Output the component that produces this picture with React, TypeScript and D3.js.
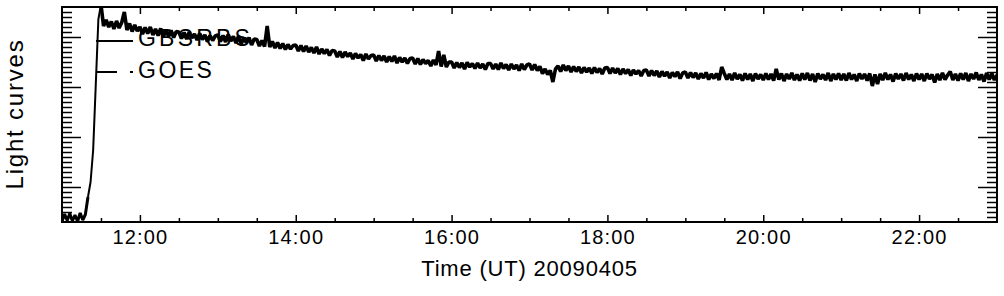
import React, { useEffect, useRef } from "react";
import * as d3 from "d3";

// GBSRBS light curve, one sample every 2 min from 11:00 UT (arbitrary units)
const startHour = 11;
const stepMinutes = 2;
const gbsrbs = [
  0.31, 0.46, 0.33, 0.47, 0.32, 0.44, 0.31, 0.48, 0.34, 0.45, 0.8, 1.1, 1.74, 3.04, 4.35,
  4.65, 4.22, 4.34, 4.2, 4.31, 4.16, 4.32, 4.18, 4.29, 4.5, 4.14, 4.27, 4.11, 4.24, 4.12,
  4.2, 4.06, 4.19, 4.07, 4.2, 4.04, 4.16, 4.03, 4.17, 4.0, 4.14, 4.02, 4.13, 3.99, 4.11,
  4.1, 3.97, 4.09, 3.96, 4.1, 3.98, 4.06, 3.94, 4.07, 3.95, 4.04, 3.91, 4.03, 3.93, 4.02,
  4.04, 3.91, 4.03, 3.9, 4.05, 3.92, 4.01, 3.88, 4.02, 3.86, 3.98, 3.89, 3.99, 3.84, 3.96,
  3.95, 3.82, 3.93, 3.81, 4.22, 3.8, 3.91, 3.78, 3.89, 3.77, 3.87, 3.75, 3.85, 3.76, 3.83,
  3.84, 3.72, 3.83, 3.71, 3.82, 3.7, 3.79, 3.68, 3.8, 3.66, 3.76, 3.67, 3.75, 3.63, 3.73,
  3.72, 3.6, 3.71, 3.59, 3.7, 3.61, 3.68, 3.56, 3.67, 3.58, 3.65, 3.53, 3.66, 3.56, 3.63,
  3.64, 3.52, 3.63, 3.53, 3.62, 3.5, 3.61, 3.51, 3.62, 3.48, 3.59, 3.5, 3.58, 3.47, 3.57,
  3.58, 3.46, 3.57, 3.45, 3.55, 3.47, 3.53, 3.42, 3.54, 3.44, 3.72, 3.41, 3.64, 3.4, 3.5,
  3.5, 3.38, 3.49, 3.39, 3.48, 3.36, 3.49, 3.4, 3.47, 3.37, 3.48, 3.38, 3.46, 3.35, 3.47,
  3.47, 3.36, 3.46, 3.35, 3.48, 3.37, 3.45, 3.34, 3.46, 3.36, 3.44, 3.33, 3.46, 3.35, 3.44,
  3.46, 3.34, 3.45, 3.33, 3.41, 3.27, 3.36, 3.25, 3.33, 3.1, 3.36, 3.42, 3.31, 3.44, 3.33,
  3.42, 3.3, 3.41, 3.31, 3.4, 3.28, 3.39, 3.3, 3.38, 3.27, 3.39, 3.29, 3.37, 3.26, 3.38,
  3.39, 3.27, 3.38, 3.28, 3.37, 3.25, 3.36, 3.27, 3.35, 3.23, 3.34, 3.26, 3.33, 3.22, 3.33,
  3.34, 3.22, 3.33, 3.23, 3.32, 3.2, 3.31, 3.22, 3.3, 3.18, 3.29, 3.21, 3.3, 3.17, 3.28,
  3.3, 3.18, 3.29, 3.19, 3.28, 3.16, 3.27, 3.18, 3.29, 3.15, 3.26, 3.17, 3.27, 3.14, 3.4,
  3.27, 3.15, 3.26, 3.14, 3.28, 3.16, 3.25, 3.13, 3.27, 3.15, 3.26, 3.12, 3.27, 3.16, 3.25,
  3.14, 3.27, 3.15, 3.26, 3.13, 3.36, 3.15, 3.27, 3.12, 3.26, 3.16, 3.28, 3.14, 3.25, 3.13,
  3.27, 3.15, 3.28, 3.13, 3.26, 3.1, 3.27, 3.16, 3.25, 3.14, 3.28, 3.12, 3.26, 3.15, 3.27,
  3.14, 3.26, 3.13, 3.28, 3.15, 3.25, 3.12, 3.27, 3.16, 3.26, 3.13, 3.27, 3.02, 3.25, 3.06,
  3.26, 3.14, 3.28, 3.15, 3.25, 3.11, 3.27, 3.16, 3.26, 3.13, 3.28, 3.15, 3.25, 3.12, 3.27,
  3.15, 3.26, 3.12, 3.27, 3.16, 3.25, 3.09, 3.26, 3.14, 3.28, 3.15, 3.24, 3.31, 3.14, 3.26,
  3.13, 3.27, 3.15, 3.28, 3.12, 3.26, 3.16, 3.29, 3.14, 3.25, 3.11, 3.28, 3.15, 3.27, 3.14, 3.24,
];
// sample indices where the impulsive rise starts and ends
const riseStart = 10;
const riseEnd = 15;

// GOES sits on the bottom of the window
const goesHours = [11, 13, 15, 17, 19, 21, 23];
const goesValues = [0.3, 0.3, 0.3, 0.3, 0.3, 0.3, 0.3];

const majorHours = [12, 14, 16, 18, 20, 22];
const majorLabels = ["12:00", "14:00", "16:00", "18:00", "20:00", "22:00"];
const yMajor = [1, 2, 3, 4];
const legendNames = ["GBSRBS", "GOES"];

const FONT = "'Liberation Sans', Arial, Helvetica, sans-serif";

function App() {
  const ref = useRef<SVGSVGElement>(null);

  useEffect(() => {
    drawChart();
  }, []);

  function drawChart() {
    const width = 1004;
    const height = 296;
    const left = 62, right = 997, top = 7, bottom = 222;

    const svg = d3.select(ref.current).attr("width", width).attr("height", height);
    svg.selectAll("*").remove();

    const xScale = d3.scaleLinear().domain([11, 23]).range([left, right]);
    const yScale = d3.scaleLinear().domain([0.3, 4.6]).range([bottom, top]);

    const minorHours = d3.range(11.5, 23, 0.5).filter((h) => h % 2 !== 0);
    const yMinor = d3.range(4, 46).map((v) => v / 10).filter((v) => v % 1 !== 0);

    svg.append("defs").append("clipPath").attr("id", "plotClip")
      .append("rect")
      .attr("x", left).attr("y", top)
      .attr("width", right - left).attr("height", bottom - top);

    // Legend
    const legend = svg.append("g");
    legend.append("line")
      .attr("x1", 96).attr("x2", 133).attr("y1", 41).attr("y2", 41)
      .attr("stroke", "#000").attr("stroke-width", 2);
    legend.append("line")
      .attr("x1", 96).attr("x2", 134).attr("y1", 72).attr("y2", 72)
      .attr("stroke", "#000").attr("stroke-width", 2)
      .attr("stroke-dasharray", "21,13,3,13");
    legend.selectAll("text")
      .data(legendNames)
      .join("text")
      .attr("x", 138)
      .attr("y", (d, i) => (i === 0 ? 46 : 78))
      .attr("font-family", FONT)
      .attr("font-size", 23)
      .attr("letter-spacing", (d, i) => (i === 0 ? 3.2 : 2.5))
      .attr("fill", "#000")
      .text((d) => d);

    // Curves
    const line = d3.line<[number, number]>()
      .x((d) => xScale(d[0]))
      .y((d) => yScale(d[1]));

    const gbPoints: [number, number][] = gbsrbs.map((v, i) => [startHour + (i * stepMinutes) / 60, v]);
    // noisy parts drawn heavier so the dense jitter reads as a band, the rise stays thin
    const pieces: [[number, number][], number][] = [
      [gbPoints.slice(0, riseStart + 1), 3],
      [gbPoints.slice(riseStart, riseEnd + 1), 2],
      [gbPoints.slice(riseEnd), 3.6],
    ];
    svg.append("g")
      .attr("clip-path", "url(#plotClip)")
      .selectAll("path")
      .data(pieces)
      .join("path")
      .attr("d", (d) => line(d[0]))
      .attr("fill", "none")
      .attr("stroke", "#000")
      .attr("stroke-width", (d) => d[1])
      .attr("stroke-linejoin", "bevel");

    const goesPoints: [number, number][] = goesHours.map((h, i) => [h, goesValues[i]]);
    svg.append("path")
      .datum(goesPoints)
      .attr("d", line)
      .attr("fill", "none")
      .attr("stroke", "#000")
      .attr("stroke-width", 2)
      .attr("stroke-dasharray", "21,13,3,13");

    // Axes, ticks pointing inward on all four sides
    const styleTicks = (g: any) => {
      g.select(".domain").remove();
      g.selectAll(".tick line").attr("stroke", "#000").attr("stroke-width", 1.5);
    };

    svg.append("g")
      .attr("transform", `translate(0,${bottom})`)
      .call(d3.axisBottom(xScale).tickValues(majorHours).tickSize(-7).tickSizeOuter(0)
        .tickPadding(8).tickFormat((d, i) => majorLabels[i]))
      .call(styleTicks)
      .call((g) => g.selectAll(".tick text")
        .attr("font-family", FONT).attr("font-size", 20)
        .attr("letter-spacing", 1.2).attr("fill", "#000"));
    svg.append("g")
      .attr("transform", `translate(0,${bottom})`)
      .call(d3.axisBottom(xScale).tickValues(minorHours).tickSize(-4).tickSizeOuter(0).tickFormat(() => ""))
      .call(styleTicks);
    svg.append("g")
      .attr("transform", `translate(0,${top})`)
      .call(d3.axisTop(xScale).tickValues(majorHours).tickSize(-7).tickSizeOuter(0).tickFormat(() => ""))
      .call(styleTicks);
    svg.append("g")
      .attr("transform", `translate(0,${top})`)
      .call(d3.axisTop(xScale).tickValues(minorHours).tickSize(-4).tickSizeOuter(0).tickFormat(() => ""))
      .call(styleTicks);

    svg.append("g")
      .attr("transform", `translate(${left},0)`)
      .call(d3.axisLeft(yScale).tickValues(yMajor).tickSize(-19).tickSizeOuter(0).tickFormat(() => ""))
      .call(styleTicks);
    svg.append("g")
      .attr("transform", `translate(${left},0)`)
      .call(d3.axisLeft(yScale).tickValues(yMinor).tickSize(-10).tickSizeOuter(0).tickFormat(() => ""))
      .call(styleTicks);
    svg.append("g")
      .attr("transform", `translate(${right},0)`)
      .call(d3.axisRight(yScale).tickValues(yMajor).tickSize(-19).tickSizeOuter(0).tickFormat(() => ""))
      .call(styleTicks);
    svg.append("g")
      .attr("transform", `translate(${right},0)`)
      .call(d3.axisRight(yScale).tickValues(yMinor).tickSize(-10).tickSizeOuter(0).tickFormat(() => ""))
      .call(styleTicks);

    // Frame
    svg.append("rect")
      .attr("x", left).attr("y", top)
      .attr("width", right - left).attr("height", bottom - top)
      .attr("fill", "none").attr("stroke", "#000").attr("stroke-width", 2);

    // Titles
    svg.append("text")
      .attr("x", (left + right) / 2)
      .attr("y", 276)
      .attr("text-anchor", "middle")
      .attr("font-family", FONT)
      .attr("font-size", 22)
      .attr("letter-spacing", 0.8)
      .attr("fill", "#000")
      .text("Time (UT) 20090405");

    svg.append("text")
      .attr("transform", "translate(23,114) rotate(-90)")
      .attr("text-anchor", "middle")
      .attr("font-family", FONT)
      .attr("font-size", 24)
      .attr("letter-spacing", 1.8)
      .attr("fill", "#000")
      .text("Light curves");
  }

  return (
    <svg
      ref={ref}
      width={1004}
      height={296}
      style={{ position: "absolute", left: 0, top: 0, background: "#fff" }}
    />
  );
}

export default App;
